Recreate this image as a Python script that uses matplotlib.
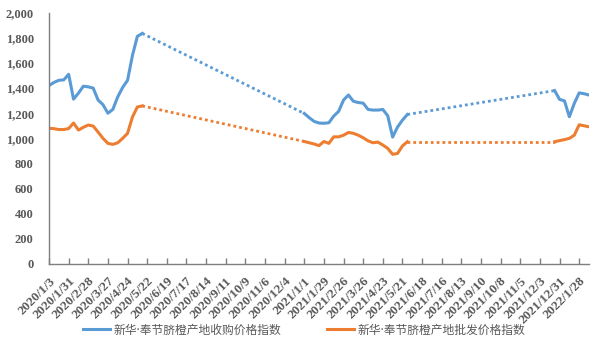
import numpy as np
import matplotlib
matplotlib.use("Agg")
import matplotlib.pyplot as plt
import matplotlib.transforms as mtransforms

nan = np.nan

# Weekly index from 2020/1/3 (week 0) to 2022/2/18 (week 110)
purchase_2020 = [1420, 1445, 1462, 1465, 1510, 1312, 1360, 1415, 1410, 1400,
                 1305, 1268, 1200, 1230, 1330, 1405, 1462, 1660, 1812, 1835]
purchase_2021a = [1198, 1165, 1135, 1122, 1120, 1124, 1177, 1215, 1305, 1345, 1295,
                  1285, 1280, 1230, 1225, 1225, 1230, 1180, 1010, 1090, 1145, 1190]
purchase_2021b = [1380, 1310, 1298, 1172, 1278, 1362, 1355, 1345]

wholesale_2020 = [1080, 1077, 1070, 1070, 1078, 1122, 1066, 1088, 1106, 1098,
                  1050, 1000, 960, 952, 965, 1000, 1040, 1170, 1250, 1258]
wholesale_2021a = [975, 965, 955, 942, 975, 960, 1012, 1012, 1025, 1047, 1040,
                   1025, 1005, 980, 965, 970, 947, 920, 873, 880, 940, 973]
wholesale_2021b = [973, 982, 990, 1000, 1025, 1108, 1100, 1092]

gap1 = [nan] * 32
gap2 = [nan] * 29
purchase = np.array(purchase_2020 + gap1 + purchase_2021a + gap2 + purchase_2021b, dtype=float)
wholesale = np.array(wholesale_2020 + gap1 + wholesale_2021a + gap2 + wholesale_2021b, dtype=float)

tick_labels = ["2020/1/3", "2020/1/31", "2020/2/28", "2020/3/27", "2020/4/24", "2020/5/22",
               "2020/6/19", "2020/7/17", "2020/8/14", "2020/9/11", "2020/10/9", "2020/11/6",
               "2020/12/4", "2021/1/1", "2021/1/29", "2021/2/26", "2021/3/26", "2021/4/23",
               "2021/5/21", "2021/6/18", "2021/7/16", "2021/8/13", "2021/9/10", "2021/10/8",
               "2021/11/5", "2021/12/3", "2021/12/31", "2022/1/28"]

series_names = ["新华·奉节脐橙产地收购价格指数", "新华·奉节脐橙产地批发价格指数"]
colors = ["#5B9BD5", "#ED7D31"]

plt.rcParams["font.family"] = "serif"
plt.rcParams["font.serif"] = ["Liberation Serif", "DejaVu Serif"]
plt.rcParams["font.weight"] = "bold"

fig = plt.figure(figsize=(6.08, 3.44), dpi=100)
ax = fig.add_axes([49 / 608, 1 - 264 / 344, (589 - 49) / 608, (264 - 12.7) / 344])

x = np.arange(len(purchase))
gray = "#595959"
legend_handles = []
for vals, col, name in zip([purchase, wholesale], colors, series_names):
    valid = ~np.isnan(vals)
    h, = ax.plot(x, vals, color=col, lw=2.2, solid_joinstyle="round", label=name)
    legend_handles.append(h)
    idx = np.where(valid)[0]
    for a, b in zip(idx[:-1], idx[1:]):
        if b - a > 1:
            ax.plot([x[a], x[b]], [vals[a], vals[b]], color=col, lw=2.0,
                    linestyle=(0, (1, 1.1)))

ax.set_xlim(0, len(purchase) - 1)
ax.set_ylim(0, 2000)
ax.set_yticks(np.arange(0, 2001, 200))
ax.set_yticklabels([f"{v:,}" for v in range(0, 2001, 200)],
                   fontfamily="Liberation Serif", fontweight="bold", fontsize=9, color=gray)
ax.set_xticks(np.arange(0, 4 * len(tick_labels), 4))
ax.set_xticklabels(tick_labels, rotation=45, ha="right", va="top", rotation_mode="anchor",
                   fontfamily="Liberation Serif", fontweight="bold", fontsize=9.5, color=gray)

offset = mtransforms.ScaledTranslation(4.5 / 100, 0, fig.dpi_scale_trans)
for lab in ax.get_xticklabels():
    lab.set_transform(lab.get_transform() + offset)

for s in ["top", "right"]:
    ax.spines[s].set_visible(False)
for s in ["left", "bottom"]:
    ax.spines[s].set_color("#7F7F7F")
    ax.spines[s].set_linewidth(1.0)

ax.tick_params(axis="y", length=0, pad=11)
ax.tick_params(axis="x", direction="in", length=4, width=1.0, color="#7F7F7F", pad=8)

leg = fig.legend(legend_handles, series_names, loc="center",
                 bbox_to_anchor=(304 / 608, 1 - 330 / 344), ncol=2, frameon=False,
                 handlelength=2.3, handletextpad=0.3, columnspacing=3.9,
                 prop={"family": ["Noto Sans", "Noto Sans CJK SC"], "size": 8.5,
                       "weight": "normal"})
for t in leg.get_texts():
    t.set_color(gray)

fig.savefig("out.png", dpi=100)
